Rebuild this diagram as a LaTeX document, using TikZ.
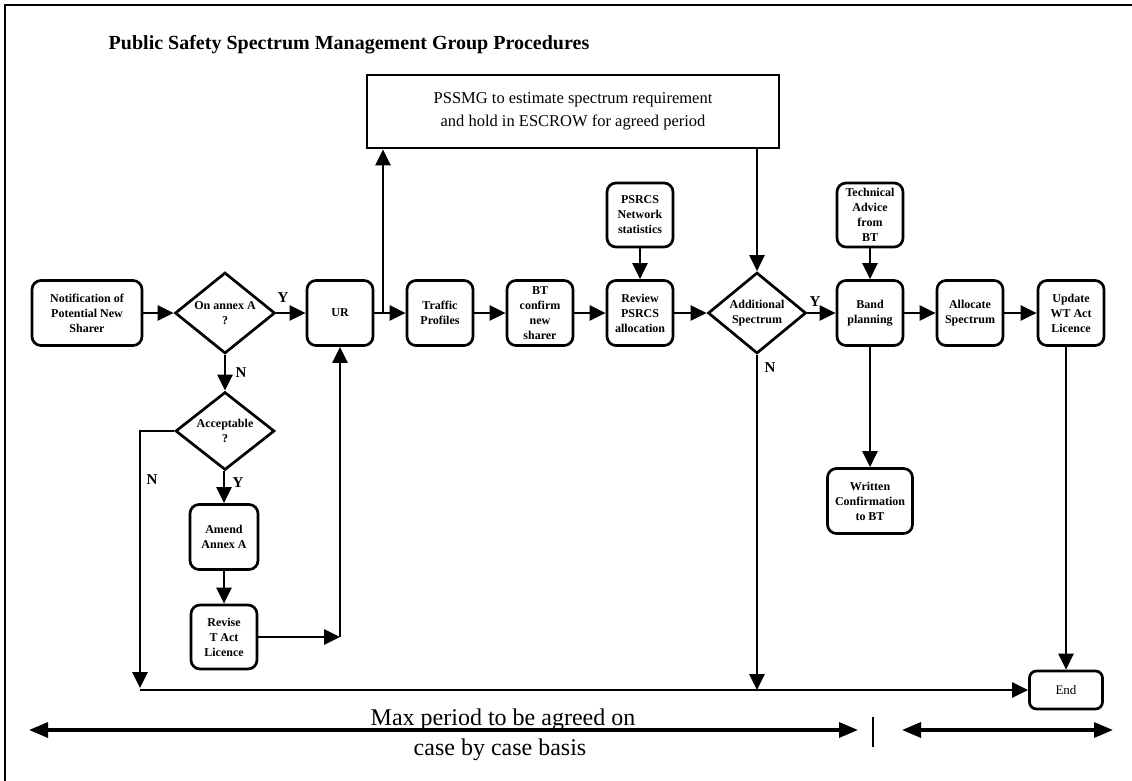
\documentclass[tikz,border=0pt]{standalone}
\usepackage{fontspec}
\setmainfont{Liberation Serif}
\usetikzlibrary{positioning, shapes.geometric, arrows.meta, calc}

\begin{document}
\begin{tikzpicture}[x=1pt, y=-1pt, line width=2.7pt,
    box/.style={draw, rounded corners=9pt, minimum width=66pt, minimum height=65pt, inner sep=1pt, align=center, font=\fontsize{12}{15}\selectfont\bfseries},
    dec/.style={draw, diamond, shape aspect=1.25, minimum width=100pt, minimum height=81pt, inner sep=0pt, align=center, font=\fontsize{12}{15}\selectfont\bfseries},
    arr/.style={-{Triangle[length=16pt, width=15pt]}},
    dbl/.style={{Triangle[length=19pt, width=15pt]}-{Triangle[length=19pt, width=15pt]}, line width=3.2pt},
    yn/.style={font=\fontsize{15}{15}\selectfont\bfseries, inner sep=0pt}]
    \useasboundingbox (0,0) rectangle (1132,781);
    % frame and title
    \draw[line width=2.5pt] (5,781) -- (5,5) -- (1132,5);
    \node[font=\fontsize{20}{24}\selectfont\bfseries] (title) at (349,45) {Public Safety Spectrum Management Group Procedures};
    \node[draw, minimum width=412pt, minimum height=73pt, align=center, font=\fontsize{16.5}{23}\selectfont] (escrow) at (573,111.5)
        {PSSMG to estimate spectrum requirement\\ and hold in ESCROW for agreed period};

    % main row
    \node[box, minimum width=110pt] (notif) at (87,313) {Notification of\\ Potential New\\ Sharer};
    \node[dec] (annex) at (225,313) {On annex A\\ ?};
    \foreach \x/\nm/\txt in {340/ur/{UR}, 440/traf/{Traffic\\ Profiles}, 540/btc/{BT\\ confirm\\ new\\ sharer},
            640/rev/{Review\\ PSRCS\\ allocation}, 870/band/{Band\\ planning}, 970/alloc/{Allocate\\ Spectrum},
            1071/upd/{Update\\ WT Act\\ Licence}} {
        \node[box] (\nm) at (\x,313) {\txt};
    }
    \node[dec, minimum width=98pt] (addsp) at (757,313) {Additional\\ Spectrum};
    \node[box, minimum height=64pt] (psrcs) at (640,215) {PSRCS\\ Network\\ statistics};
    \node[box, minimum height=64pt] (tech) at (870,215) {Technical\\ Advice\\ from\\ BT};
    \node[box, minimum width=85pt] (writ) at (870,501) {Written\\ Confirmation\\ to BT};
    \node[box, minimum width=73pt, minimum height=38pt, rounded corners=7pt, font=\fontsize{13}{15}\selectfont] (endb) at (1066,690) {End};

    % left branch
    \node[dec, minimum width=99pt, minimum height=78pt] (acc) at (225,431) {Acceptable\\ ?};
    \node[box, minimum width=68pt] (amend) at (224,537) {Amend\\ Annex A};
    \node[box, minimum height=64pt] (revise) at (224,637) {Revise\\ T Act\\ Licence};

    % connectors
    \foreach \a/\b in {notif/annex, annex/ur, traf/btc, btc/rev, rev/addsp, addsp/band, band/alloc, alloc/upd,
            psrcs/rev, tech/band, band/writ, annex/acc, amend/revise} {
        \draw[arr] (\a) -- (\b);
    }
    \draw[arr] (acc.south -| amend.north) -- (amend.north);
    \coordinate (fork) at (383,313);
    \draw[arr] (ur) -- (traf);
    \draw[arr] (fork) -- (fork |- escrow.south);
    \draw[arr] (escrow.south -| addsp.north) -- (addsp.north);
    \draw[arr] (upd.south -| endb.north) -- (endb.north);
    \coordinate (jn) at (ur.south |- revise.east);
    \draw[arr] (revise.east) -- (jn);
    \draw[arr] (jn) -- (ur.south);
    \coordinate (bl) at (140,690);
    \coordinate (bln) at (140,431);
    \draw[arr] (acc.west) -- (bln) -- ($(bl)+(0,-2)$);
    \draw[arr] (bl) -- (endb.west);
    \draw[arr] (addsp.south) -- (addsp.south |- bl);

    % Y / N labels
    \node[yn] (ly1) at (283,298) {Y};
    \node[yn] (ln1) at (241,373) {N};
    \node[yn] (ly2) at (238,483) {Y};
    \node[yn] (ln2) at (152,480) {N};
    \node[yn] (ly3) at (815,302) {Y};
    \node[yn] (ln3) at (770,368) {N};

    % time span
    \coordinate (p1) at (29,730);
    \coordinate (p2) at (858,730);
    \coordinate (p3) at (902,730);
    \coordinate (p4) at (1113,730);
    \coordinate (b1) at (873,717);
    \coordinate (b2) at (873,747);
    \draw[dbl] (p1) -- (p2);
    \draw[dbl] (p3) -- (p4);
    \draw[line width=2.8pt] (b1) -- (b2);
    \node[font=\fontsize{24}{24}\selectfont, anchor=base, inner sep=0pt] (maxp) at (503,725) {Max period to be agreed on};
    \node[font=\fontsize{24}{24}\selectfont, inner sep=0pt] (casep) at (500,750) {case by case basis};
\end{tikzpicture}
\end{document}
